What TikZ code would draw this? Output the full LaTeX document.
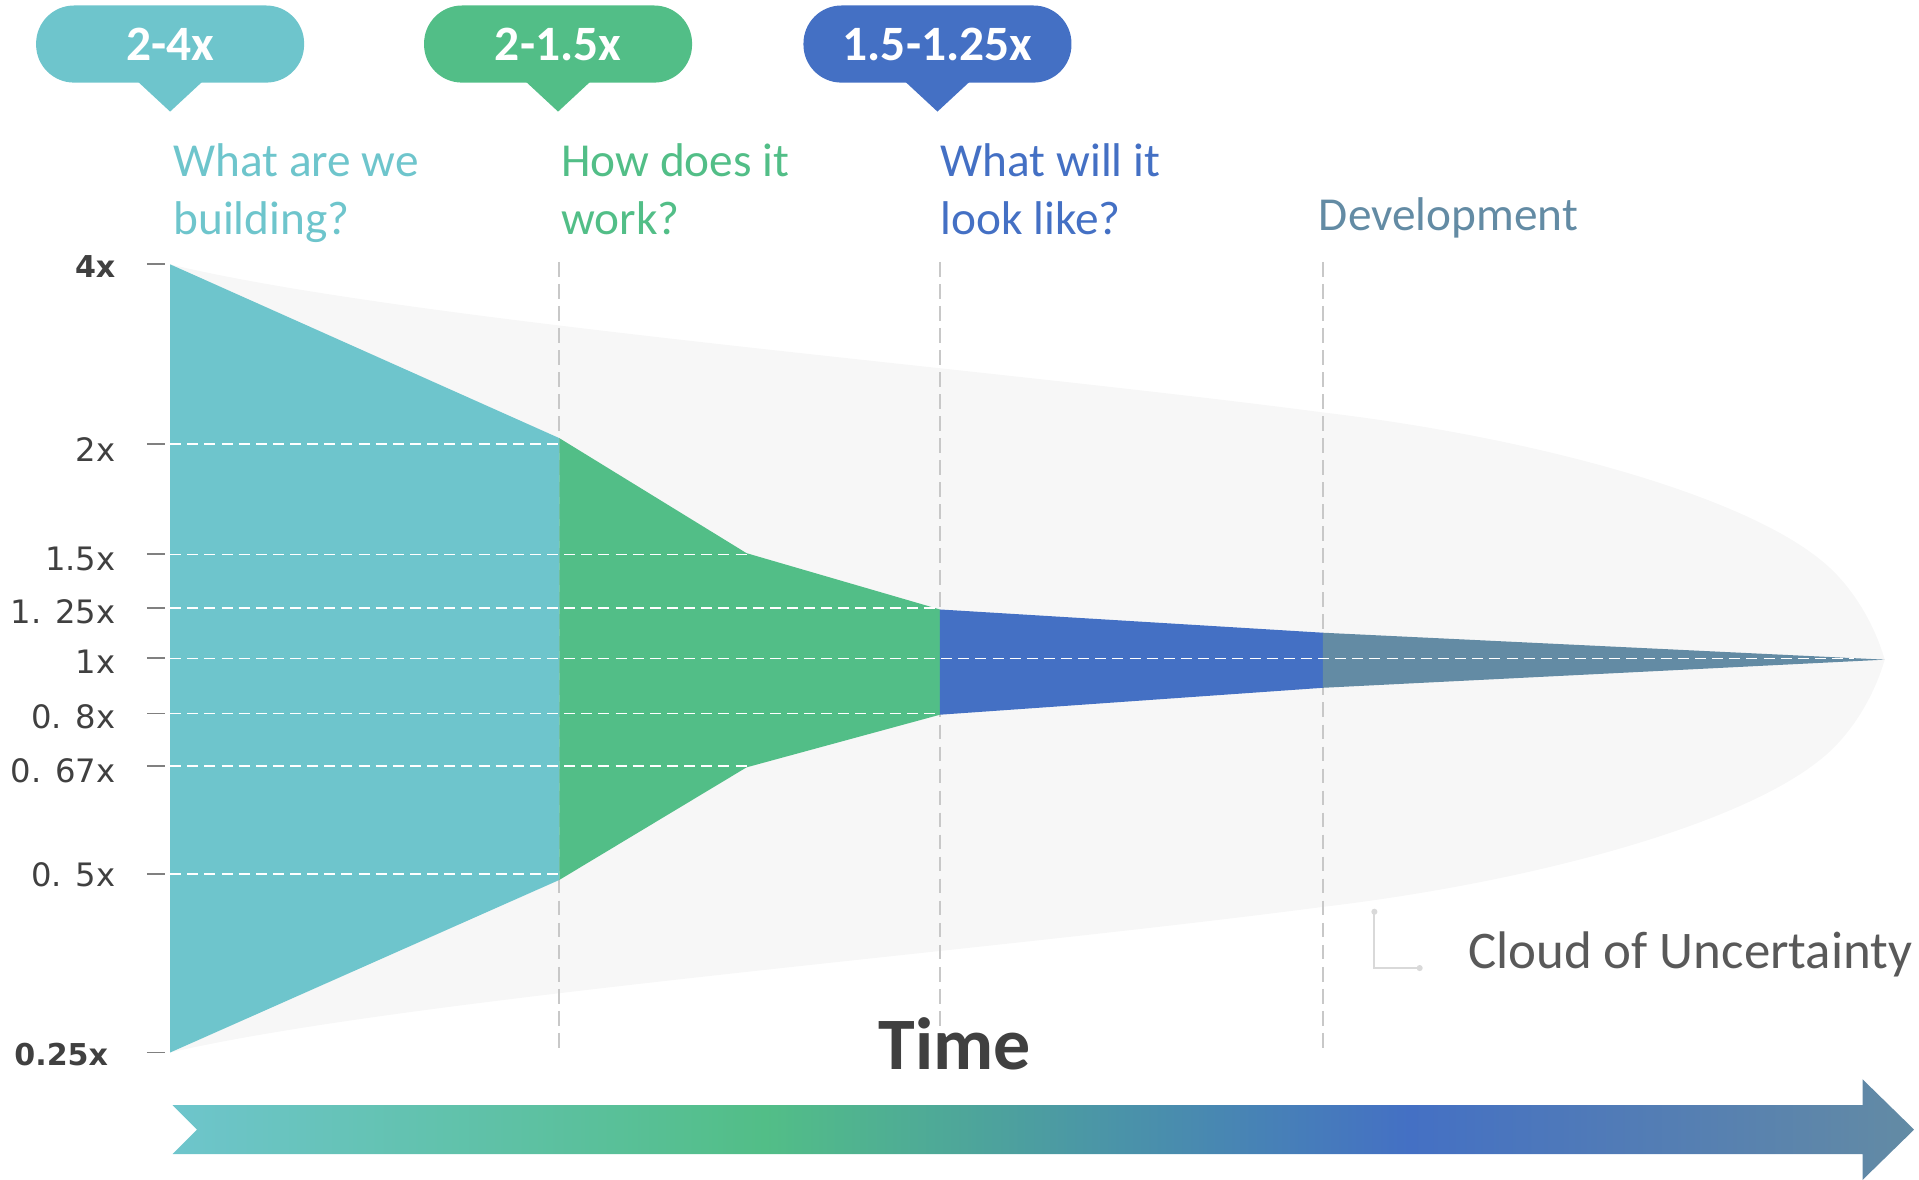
\documentclass[tikz,border=0pt]{standalone}
\usepackage{fontspec}
\setmainfont{Carlito}
\newfontfamily\axisfont{DejaVu Sans}
\usetikzlibrary{positioning}

\definecolor{phaseA}{HTML}{6EC5CC}
\definecolor{phaseB}{HTML}{52BE87}
\definecolor{phaseC}{HTML}{4470C4}
\definecolor{phaseD}{HTML}{638BA4}
\definecolor{cloudgray}{HTML}{F7F7F7}
\definecolor{textgray}{HTML}{404040}
\definecolor{labelgray}{HTML}{595959}
\definecolor{tickgray}{HTML}{808080}
\definecolor{linegray}{HTML}{C8C8C8}
\definecolor{leadergray}{HTML}{D9D9D9}

% colour run of the time arrow (middle 50bp is stretched over the arrow)
\pgfdeclarehorizontalshading{timebar}{100bp}{color(0bp)=(phaseA); color(25bp)=(phaseA);
  color(42bp)=(phaseB); color(60.5bp)=(phaseC); color(75bp)=(phaseD); color(100bp)=(phaseD)}

\tikzset{
        callout/.style={
		fill=#1,
		text=white,
		font=\fontsize{11.5}{13}\selectfont\bfseries,
		minimum width=21.9mm,
		minimum height=6.3mm,
		rounded corners=3.1mm,
		inner sep=0pt,
	  },
        phase title/.style={
		text=#1,
		font=\fontsize{11}{13.4}\selectfont,
		align=left,
		anchor=north west,
		inner sep=0pt,
	  },
        axis label/.style={
		text=textgray,
		font=\axisfont\fontsize{7.5}{9}\selectfont,
		anchor=east,
		inner sep=0pt,
	  },
        axis tick/.style={draw=tickgray, line width=0.45pt}, % short marks left of the cone
        value line/.style={draw=white, dash pattern=on 0.9mm off 0.5mm, line width=0.4pt},
        phase line/.style={draw=linegray, dash pattern=on 1.2mm off 0.6mm, line width=0.45pt},
        leader/.style={draw=leadergray, line width=0.45pt},
    }

\begin{document}
\begin{tikzpicture}[x=0.1mm, y=-0.1mm]
    \useasboundingbox (0,0) rectangle (1568,964);

    % corners of the cone
    \coordinate (top0) at (139,216);
    \coordinate (bot0) at (139,860);
    \coordinate (top1) at (457,358);
    \coordinate (bot1) at (457,719);
    \coordinate (top2) at (610,452);
    \coordinate (bot2) at (610,627);
    \coordinate (top3) at (768,498);
    \coordinate (bot3) at (768,584);
    \coordinate (top4) at (1081,517);
    \coordinate (bot4) at (1081,562);
    \coordinate (tip) at (1540,539);

    % cloud of uncertainty
    \fill[cloudgray] (top0) .. controls (330,262) and (800,300) .. (1081,337)
      .. controls (1250,357) and (1420,403) .. (1487,457)
      .. controls (1510,475) and (1530,505) .. (tip)
      .. controls (1530,573) and (1510,603) .. (1487,621)
      .. controls (1420,675) and (1250,721) .. (1081,741)
      .. controls (800,778) and (330,816) .. (bot0) -- cycle;

    \foreach \x in {457,768,1081}
      \draw[phase line] (\x,214) -- (\x,860);

    \fill[phaseA] (top0) -- (top1) -- (bot1) -- (bot0) -- cycle;
    \fill[phaseB] (top1) -- (top2) -- (top3) -- (bot3) -- (bot2) -- (bot1) -- cycle;
    \fill[phaseC] (top3) -- (top4) -- (bot4) -- (bot3) -- cycle;
    \fill[phaseD] (top4) -- (tip) -- (bot4) -- cycle;

    % y axis
    \foreach \y/\ly/\xend/\lab in {363/367/457/2x, 453/457/610/1.5x, 497/500/768/1. 25x,
                                   538/541/1515/1x, 583/586/768/0. 8x, 626/630/610/0. 67x,
                                   714/715/457/0. 5x} {
      \draw[value line] (139,\y) -- (\xend,\y);
      \draw[axis tick] (120,\y) -- (135,\y);
      \node[axis label] (lab\y) at (95,\ly) {\lab};
    }
    \draw[axis tick] (120,216) -- (135,216);
    \draw[axis tick] (120,860) -- (135,860);
    \node[axis label, font=\axisfont\bfseries\fontsize{7}{9}\selectfont] (lab216) at (95,218) {4x};
    \node[axis label, font=\axisfont\bfseries\fontsize{7}{9}\selectfont] (lab860) at (89,862) {0.25x};

    % callouts
    \node[callout=phaseA] (call1) at (139,36) {2-4x};
    \node[callout=phaseB] (call2) at (456,36) {2-1.5x};
    \node[callout=phaseC] (call3) at (766,36) {1.5-1.25x};
    \foreach \n/\c in {1/phaseA, 2/phaseB, 3/phaseC}
      \fill[\c] ([xshift=-2.8mm, yshift=0.3mm]call\n.south) -- ++(2.8mm,-2.6mm) -- ++(2.8mm,2.6mm) -- cycle;

    \node[phase title=phaseA] (q1) at (141,117) {What are we\\building?};
    \node[phase title=phaseB] (q2) at (458,117) {How does it\\work?};
    \node[phase title=phaseC] (q3) at (768,117) {What will it\\look like?};
    \node[phase title=phaseD] (q4) at (1077,161) {Development};

    % time arrow
    \node[anchor=base, inner sep=0pt, text=textgray, font=\fontsize{17.2}{20}\selectfont\bfseries] (time) at (780,874) {Time};
    \shade[shading=timebar] (141,903) -- (1522,903) -- (1522,882) -- (1564,923) -- (1522,964)
      -- (1522,943) -- (141,943) -- (161,923) -- cycle;

    % label of the cloud
    \coordinate (leadA) at (1123,745);
    \coordinate (leadB) at (1160,791);
    \draw[leader] (leadA) |- (leadB);
    \fill[leadergray] (leadA) circle (0.25mm) (leadB) circle (0.25mm);
    \node[anchor=base west, inner sep=0pt, text=labelgray, font=\fontsize{12.3}{14}\selectfont] (cloud) at (1199,791) {Cloud of Uncertainty};
\end{tikzpicture}
\end{document}
